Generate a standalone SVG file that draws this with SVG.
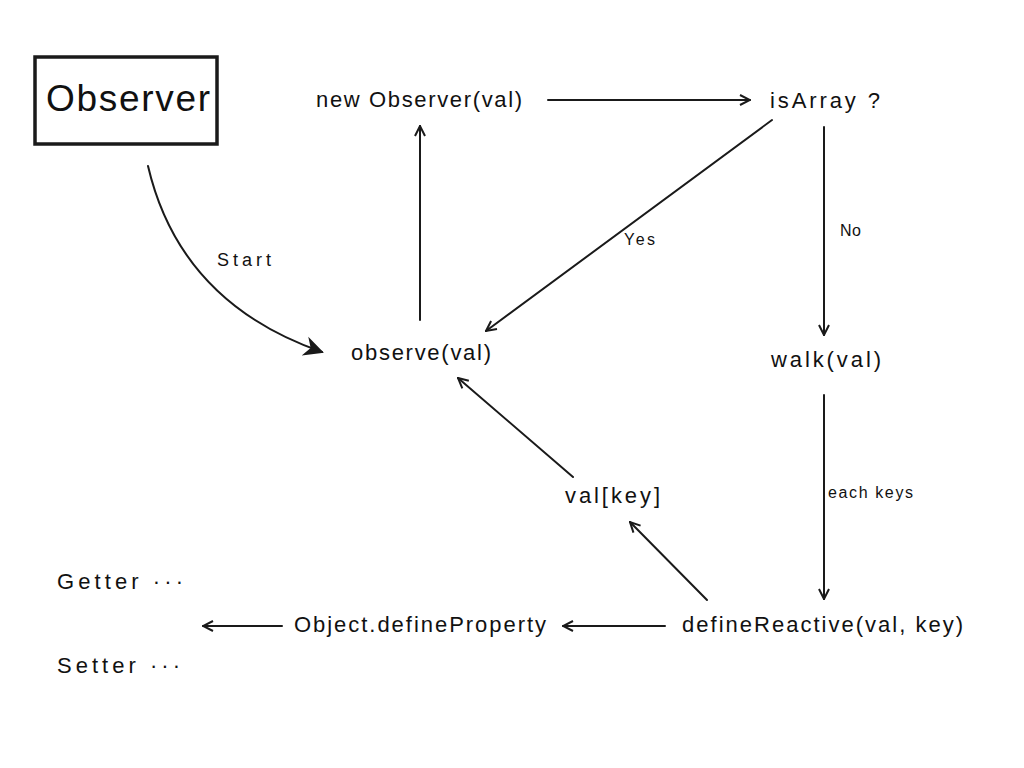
<svg xmlns="http://www.w3.org/2000/svg" width="1024" height="768" viewBox="0 0 1024 768">
<style>
text{font-family:"Liberation Sans","DejaVu Sans",sans-serif;fill:#111;dominant-baseline:middle}
.n{font-size:22px}
.l{font-size:16px}
.c{fill:none;stroke:#1a1a1a;stroke-width:2;stroke-linecap:round}
</style>
<defs>
<marker id="ah" viewBox="0 0 12 12" refX="11" refY="6" markerWidth="12" markerHeight="12" markerUnits="userSpaceOnUse" orient="auto">
<path d="M1,1 L11,6 L1,11" fill="none" stroke="#1a1a1a" stroke-width="2"/>
</marker>
<marker id="ahb" viewBox="0 0 12 12" refX="10" refY="6" markerWidth="24" markerHeight="24" markerUnits="userSpaceOnUse" orient="auto">
<path d="M1,1 L11,6 L1,11 L4,6 Z" fill="#1a1a1a"/>
</marker>
</defs>
<rect width="1024" height="768" fill="#fff"/>
<g id="observer-title">
<rect x="35" y="57" width="182" height="87" fill="none" stroke="#1a1a1a" stroke-width="3.5"/>
<text x="46" y="101" textLength="164" lengthAdjust="spacing" style="font-size:37px">Observer</text>
</g>
<g id="new-observer"><text class="n" x="316" y="101" textLength="206" lengthAdjust="spacing">new Observer(val)</text></g>
<g id="is-array"><text class="n" x="770" y="102" textLength="110" lengthAdjust="spacing">isArray ?</text></g>
<g id="observe"><text class="n" x="351" y="354" textLength="140" lengthAdjust="spacing">observe(val)</text></g>
<g id="walk"><text class="n" x="771" y="361" textLength="110" lengthAdjust="spacing">walk(val)</text></g>
<g id="val-key"><text class="n" x="565" y="497" textLength="95" lengthAdjust="spacing">val[key]</text></g>
<g id="define-reactive"><text class="n" x="682" y="626" textLength="281" lengthAdjust="spacing">defineReactive(val, key)</text></g>
<g id="object-define-property"><text class="n" x="294" y="626" textLength="252" lengthAdjust="spacing">Object.defineProperty</text></g>
<g id="getter"><text class="n" x="57" y="583" textLength="126" lengthAdjust="spacing">Getter ···</text></g>
<g id="setter"><text class="n" x="57" y="667" textLength="123" lengthAdjust="spacing">Setter ···</text></g>
<g id="connectors">
<path class="c" d="M148,166 C170,260 230,320 322,352" stroke-width="3" marker-end="url(#ahb)"/>
<text x="217" y="261" textLength="54" lengthAdjust="spacing" style="font-size:18px">Start</text>
<line class="c" x1="548" y1="100" x2="750" y2="100" marker-end="url(#ah)"/>
<line class="c" x1="772" y1="120" x2="486" y2="331" stroke-width="1.5" marker-end="url(#ah)"/>
<text class="l" x="624" y="241" textLength="31" lengthAdjust="spacing">Yes</text>
<line class="c" x1="824" y1="127" x2="824" y2="335" marker-end="url(#ah)"/>
<text class="l" x="840" y="232" textLength="21" lengthAdjust="spacing">No</text>
<line class="c" x1="824" y1="395" x2="824" y2="599" marker-end="url(#ah)"/>
<text class="l" x="828" y="494" textLength="85" lengthAdjust="spacing">each keys</text>
<line class="c" x1="665" y1="626" x2="563" y2="626" marker-end="url(#ah)"/>
<line class="c" x1="282" y1="626" x2="203" y2="626" marker-end="url(#ah)"/>
<line class="c" x1="707" y1="600" x2="630" y2="522" marker-end="url(#ah)"/>
<line class="c" x1="573" y1="477" x2="458" y2="378" marker-end="url(#ah)"/>
<line class="c" x1="420" y1="320" x2="420" y2="126" marker-end="url(#ah)"/>
</g>
</svg>
